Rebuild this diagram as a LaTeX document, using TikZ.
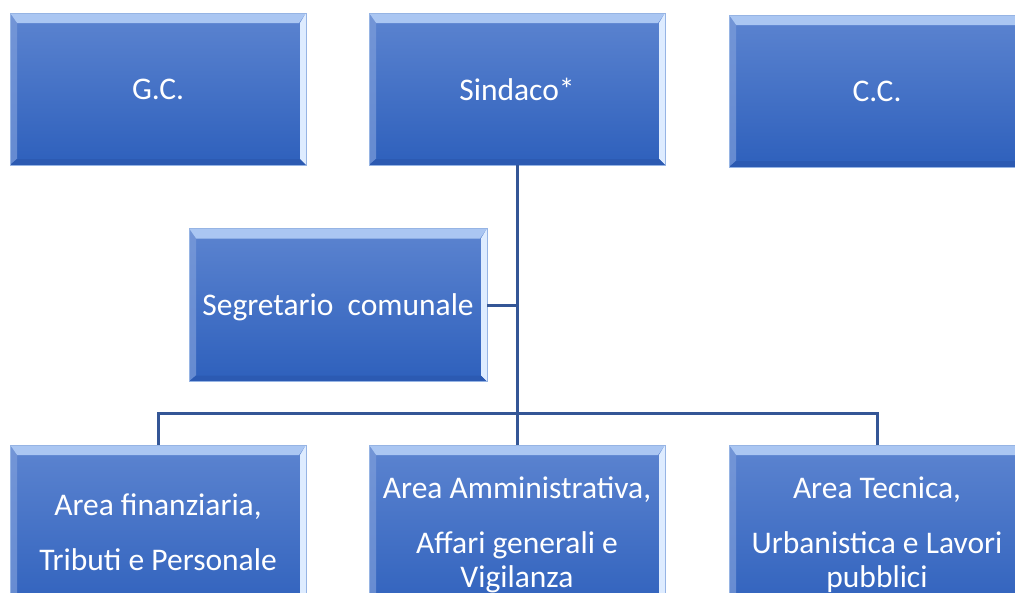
\documentclass[tikz,border=0pt]{standalone}
\usepackage{fontspec}
\setmainfont{Carlito}
\usepackage{xcolor}
\usepackage{tikz}

\definecolor{boxtop}{RGB}{92,132,208}
\definecolor{boxbot}{RGB}{46,96,188}
\definecolor{boxline}{RGB}{150,180,228}
\definecolor{bevlight}{RGB}{170,198,242}
\definecolor{bevside}{RGB}{222,236,255}
\definecolor{bevdark}{RGB}{44,90,178}
\definecolor{linkcol}{RGB}{52,86,150}

\begin{document}
\begin{tikzpicture}[x=1pt, y=-1pt,
    box/.style={draw=boxline, line width=0.8pt, top color=boxtop, bottom color=boxbot,
        text=white, align=center, minimum width=296pt, minimum height=152pt,
        font=\fontsize{31.5}{34}\selectfont, text depth=0pt,
        path picture={
            \fill[bevlight] (path picture bounding box.north west) -- (path picture bounding box.north east)
                -- ++(-7pt,-10pt) -- ([shift={(7pt,-10pt)}]path picture bounding box.north west) -- cycle;
            \fill[bevside] (path picture bounding box.north east) -- (path picture bounding box.south east)
                -- ++(-6pt,6pt) -- ([shift={(-6pt,-10pt)}]path picture bounding box.north east) -- cycle;
            \fill[boxtop!80!white, opacity=0.7] (path picture bounding box.north west) -- (path picture bounding box.south west)
                -- ++(7pt,6pt) -- ([shift={(7pt,-10pt)}]path picture bounding box.north west) -- cycle;
            \fill[bevdark] (path picture bounding box.south west) -- (path picture bounding box.south east)
                -- ++(-6pt,6pt) -- ([shift={(7pt,6pt)}]path picture bounding box.south west) -- cycle;
        }},
    link/.style={draw=linkcol, line width=3pt}]

    \clip (0,0) rectangle (1015,592);

    \node [box] (gc) at (158,89) {G.C.};
    \node [box] (sindaco) at (517,89) {Sindaco*};
    \node [box] (cc) at (877,91) {C.C.};
    \node [box, minimum width=298pt, minimum height=153pt] (segr) at (338,305) {Segretario\ \ comunale};

    \node [box, minimum height=174pt] (finan) at (158,532) {Area finanziaria,\\[21pt] Tributi e Personale};
    \node [box, minimum height=174pt] (ammin) at (517,532) {Area Amministrativa,\\[21pt] Affari generali e\\ Vigilanza};
    \node [box, minimum height=174pt] (tecn) at (877,532) {Area Tecnica,\\[21pt] Urbanistica e Lavori\\ pubblici};

    \coordinate (bar) at (517,413);

    \draw [link] (sindaco.south) -- (ammin.north);
    \draw [link] (segr.east) -- (segr.east -| sindaco.south);
    \draw [link] (finan.north) -- (finan.north |- bar) -- (tecn.north |- bar) -- (tecn.north);
\end{tikzpicture}
\end{document}
